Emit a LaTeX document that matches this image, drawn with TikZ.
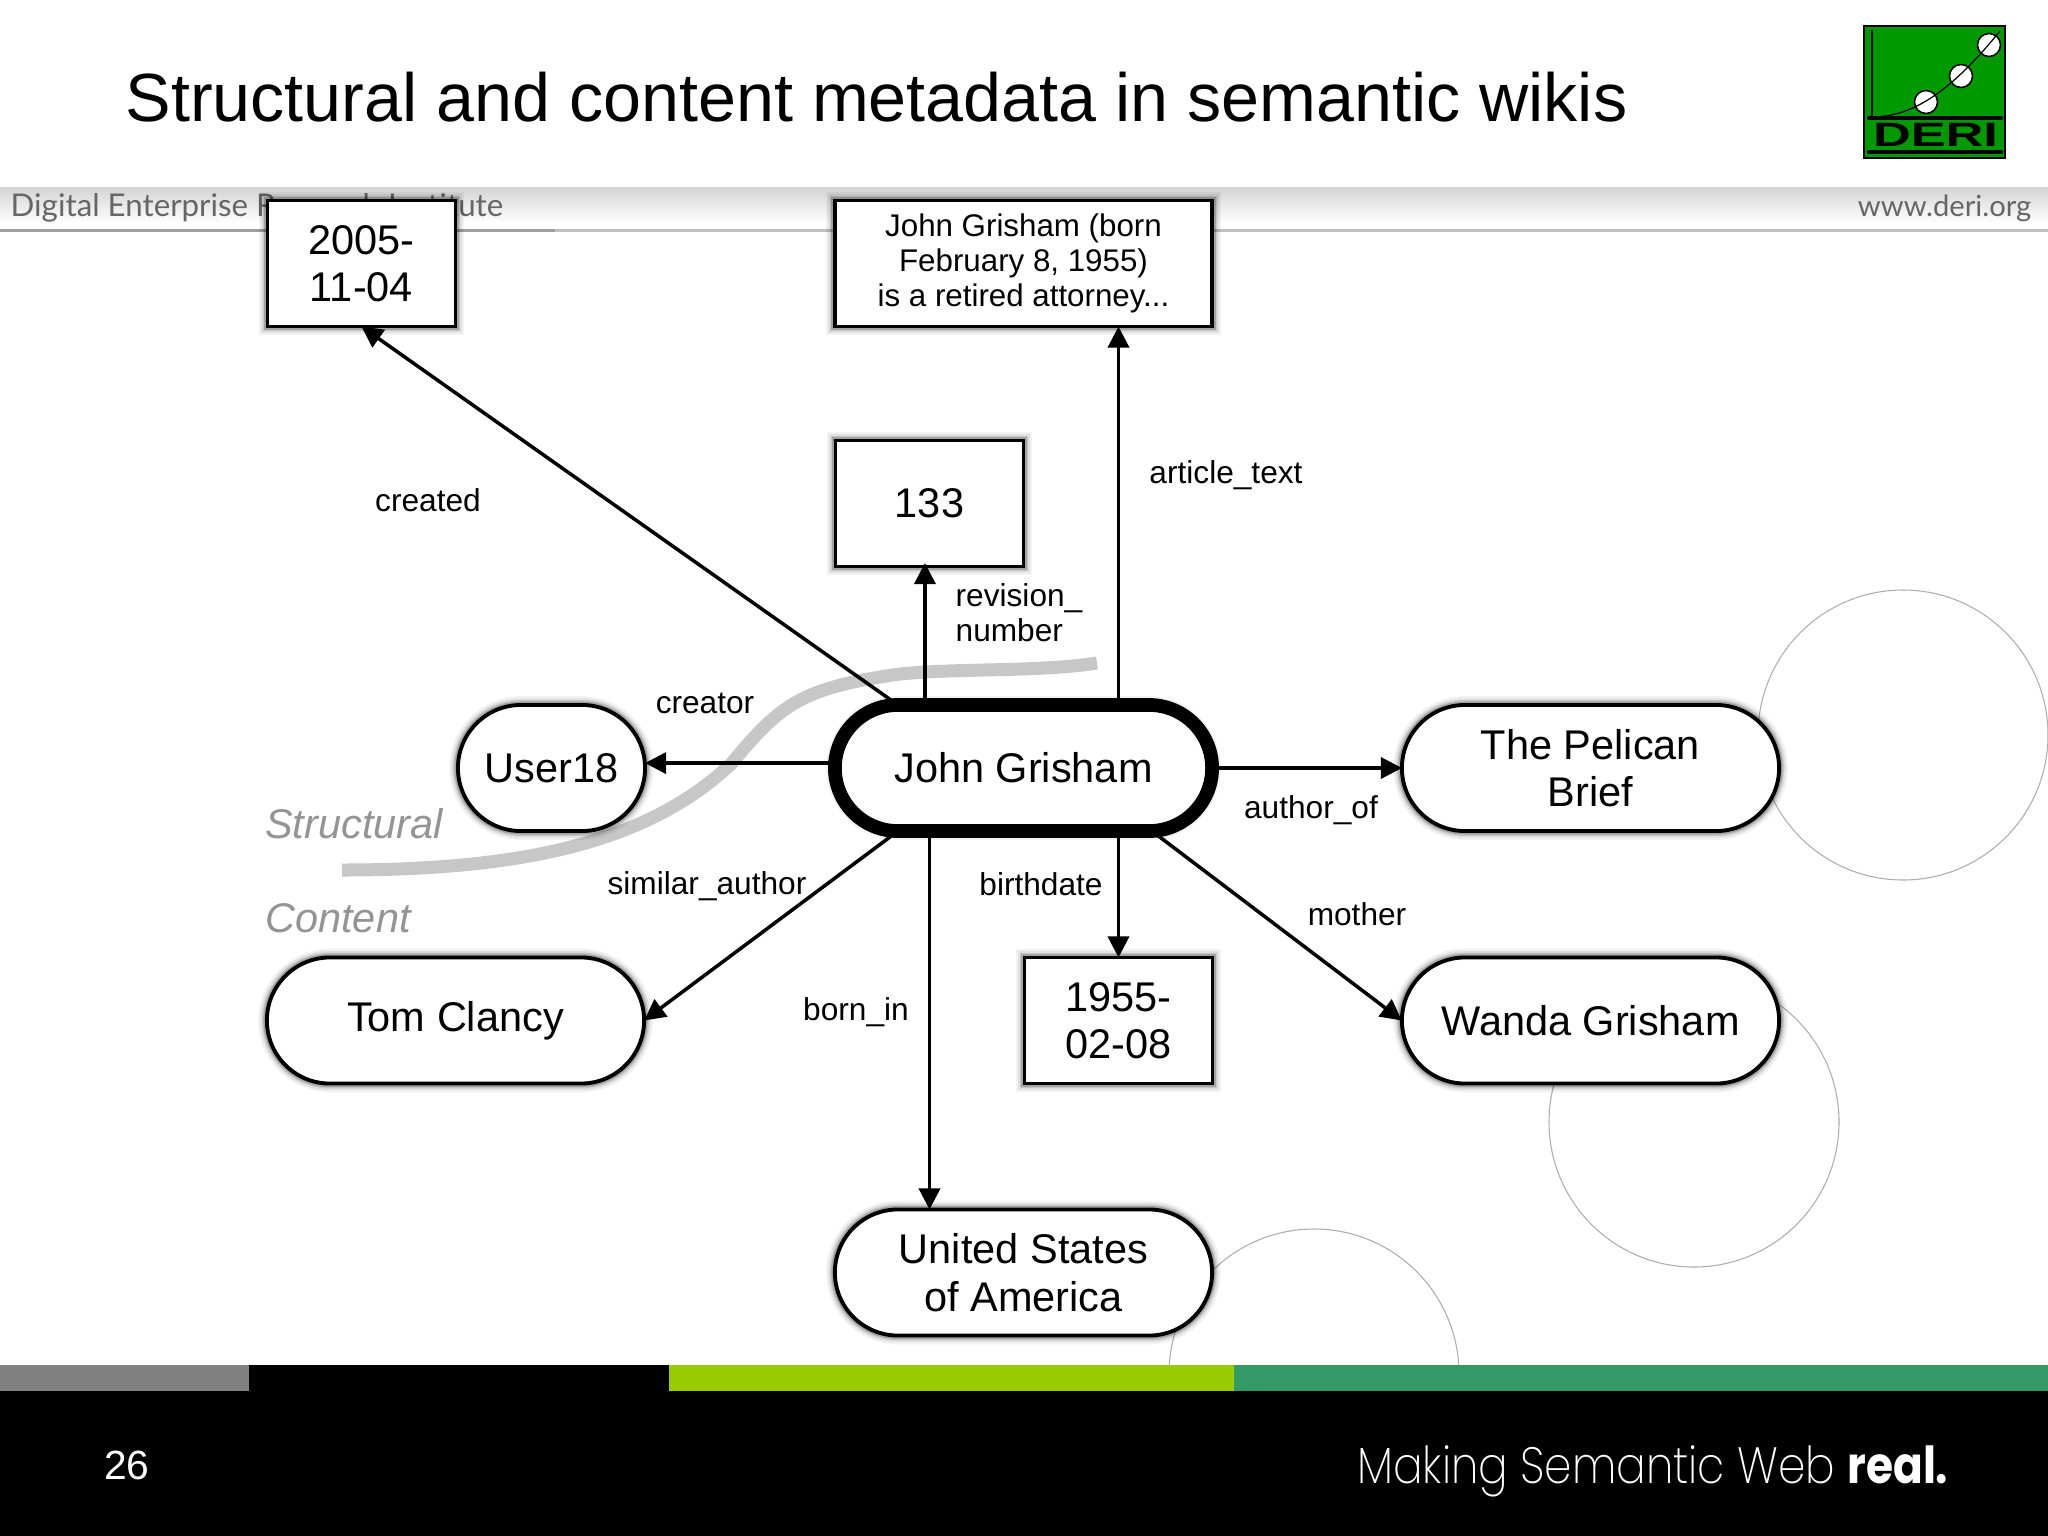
\documentclass[tikz,border=0pt]{standalone}
\usepackage{fontspec}
\setmainfont{Liberation Sans}
\newfontfamily\bandfont{Lato}
\newfontfamily\slogan{Poppins ExtraLight}[BoldFont={Poppins Bold},FakeStretch=0.86]
\newfontfamily\logofont{Liberation Sans}[FakeStretch=1.55]
\usetikzlibrary{arrows.meta,shapes.misc,shadows}
\definecolor{bargreen}{HTML}{99CC00}
\definecolor{bardark}{HTML}{339966}
\definecolor{logogreen}{HTML}{009900}
\def\labelsize{\fontsize{9}{10}\selectfont}
\def\smallsize{\fontsize{8.9}{10}\selectfont}
\def\nodesize{\fontsize{11.8}{13.5}\selectfont}

\begin{document}
\begin{tikzpicture}[x=0.01cm,y=-0.01cm, every node/.append style={inner sep=0pt}]
    \tikzstyle{soft shadow}=[general shadow={fill=black,draw=black,line width=5pt,opacity=.05},
        general shadow={fill=black,draw=black,line width=3.8pt,opacity=.07},
        general shadow={fill=black,draw=black,line width=2.8pt,opacity=.11},
        general shadow={fill=black,draw=black,line width=2pt,opacity=.18}]
    \tikzstyle{literal}=[draw=black,fill=white,line width=1.1pt,outer sep=0pt,soft shadow,align=center,minimum height=1.26cm,font=\nodesize]
    \tikzstyle{entity}=[literal,rounded rectangle,minimum width=3.77cm]
    \tikzstyle{main entity}=[entity,line width=3.9pt]
    \tikzstyle{link}=[-{Triangle[length=6pt,width=6pt]},line width=1pt,draw=black]
    \tikzstyle{link label}=[font=\labelsize,text=black,align=left]
    \tikzstyle{annot}=[font=\nodesize\itshape,text=black!42]
    \tikzstyle{ring}=[draw=black!32,line width=0.3pt]

    \useasboundingbox (0,0) rectangle (2048,1536);
    \fill[white] (0,0) rectangle (2048,1536);

    % Header band
    \shade[top color=black!17,bottom color=white] (0,187) rectangle (2048,223);
    \fill[black!38] (0,229) rectangle (555,232);
    \fill[black!25] (555,229) rectangle (2048,232);
    \node[anchor=base west,font=\bandfont\fontsize{8.9}{10}\selectfont,text=black!60] (institute) at (10,216) {Digital Enterprise Research Institute};
    \node[anchor=base east,font=\bandfont\fontsize{8.3}{10}\selectfont,text=black!60] (site) at (2032,216) {www.deri.org};

    % Title
    \node[anchor=base west,font=\fontsize{19.4}{22}\selectfont] (title) at (125,121) {Structural and content metadata in semantic wikis};

    % The logo
    \draw[fill=logogreen,line width=0.3pt] (1864,26) rectangle (2005,158);
    \draw[line width=0.5pt] (1872,30) -- (1872,117);
    \foreach \x / \y in {1926/102,1961/76,1989/45}
        \draw[fill=white,line width=0.45pt] (\x,\y) circle (11.5);
    \draw[line width=0.35pt] (1872,117) .. controls (1920,117) and (1960,80) .. (2000,31);
    \draw[line width=1.2pt,line cap=round] (1869,118) -- (2001,118);
    \draw[line width=1.2pt,line cap=round] (1869,152) -- (2001,152);
    \node[font=\logofont\bfseries\fontsize{9.6}{10}\selectfont] (deri) at (1935.5,135) {DERI};

    % Draw the circles behind the diagram
    \foreach \x / \y in {1903/735,1694/1122,1314/1374}
        \draw[ring] (\x,\y) circle (145);

    % Draw the border between both kinds of metadata
    \draw[black!22,line width=3.7pt] (342,870) .. controls (530,870) and (650,840) .. (731,764)
        .. controls (780,705) and (800,688) .. (900,674) .. controls (960,668) and (1040,672) .. (1097,663);

    % Draw the literals
    \foreach \name / \x / \y / \w / \txt in {created/361.5/263.5/188/2005-\\11-04,revision/929.5/503.5/188/133,birth/1118.5/1020.5/188/1955-\\02-08}
        \node[literal,minimum width=\w*0.01cm] (\name) at (\x,\y) {\txt};
    \node[literal,minimum width=3.77cm,font=\smallsize] (article) at (1023.5,263.5) {John Grisham (born\\February 8, 1955)\\is a retired attorney...};

    % Draw the entities
    \node[main entity] (john) at (1023.5,768) {John Grisham};
    \node[entity,minimum width=1.87cm] (user) at (551.5,768) {User18};
    \foreach \name / \x / \y / \txt in {pelican/1590.5/768/The Pelican\\Brief,clancy/455.5/1020.5/Tom Clancy,wanda/1590.5/1020.5/Wanda Grisham,usa/1023.5/1272.5/United States\\of America}
        \node[entity] (\name) at (\x,\y) {\txt};

    % Connect the central entity with everything else
    \draw[link] (john.north west) -- (created.south);
    \draw[link] ([xshift=-1.3pt]john.north -| revision.south) -- ([xshift=-1.3pt,yshift=1pt]revision.south);
    \draw[link] (john.north -| birth.north) -- (birth.north |- article.south);
    \draw[link] ([yshift=1.4pt]john.west) -- ([yshift=1.4pt]user.east);
    \draw[link] (john.east) -- (pelican.west);
    \draw[link] (john.south west) -- (clancy.east);
    \draw[link] (john.south -| revision.south) -- (revision.south |- usa.north);
    \draw[link] (john.south -| birth.north) -- (birth.north);
    \draw[link] ([xshift=0.8pt]john.south east) -- (wanda.west);

    % Annotate the links
    \foreach \name / \x / \y / \txt in {lcreated/428/500/created,larticle/1226/475/article\_text,lrevision/1019/613/revision\_\\number,lcreator/705/703/creator,lauthor/1311/810/author\_of,lsimilar/707/886/similar\_author,lbirth/1041/884/birthdate,lmother/1357/914/mother,lborn/856/1012/born\_in}
        \node[link label] (\name) at (\x,\y) {\txt};
    \node[annot] (structural) at (354,824) {Structural};
    \node[annot] (content) at (338,918) {Content};

    % Footer
    \fill[black] (0,1391) rectangle (2048,1536);
    \fill[black!50] (0,1365) rectangle (249,1391);
    \fill[black] (249,1365) rectangle (669,1391);
    \fill[bargreen] (669,1365) rectangle (1234,1391);
    \fill[bardark] (1234,1365) rectangle (2048,1391);
    \node[text=white,font=\fontsize{11.6}{12}\selectfont] (page) at (127,1465) {26};
    \node[anchor=base east,text=white,font=\slogan\fontsize{14.5}{16}\selectfont] (motto) at (1949,1483) {Making Semantic Web \textbf{real.}};
\end{tikzpicture}
\end{document}
